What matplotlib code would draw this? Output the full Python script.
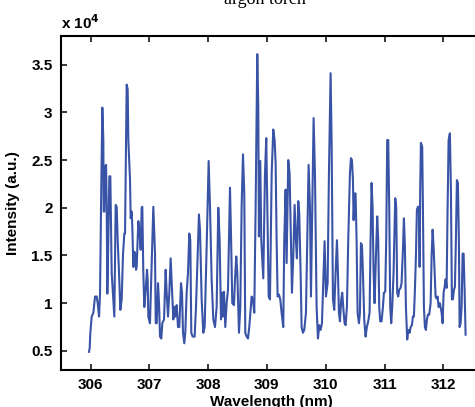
import numpy as np
import matplotlib.pyplot as plt
from matplotlib.ticker import FuncFormatter

# wavelength (nm)
wavelength = [
    305.974, 305.986, 305.997, 306.020, 306.048, 306.077, 306.105, 306.122, 306.145, 306.162,
    306.179, 306.201, 306.218, 306.224, 306.235, 306.247, 306.264, 306.275, 306.286, 306.303,
    306.320, 306.337, 306.360, 306.405, 306.428, 306.445, 306.462, 306.485, 306.507, 306.530,
    306.553, 306.575, 306.587, 306.615, 306.632, 306.643, 306.672, 306.683, 306.700, 306.711,
    306.728, 306.745, 306.757, 306.774, 306.785, 306.813, 306.830, 306.853, 306.870, 306.881,
    306.898, 306.915, 306.938, 306.961, 306.972, 306.983, 307.011,
    307.068, 307.097, 307.109, 307.126, 307.148, 307.165, 307.182, 307.204, 307.221, 307.250,
    307.278, 307.295, 307.318, 307.340, 307.363, 307.386, 307.408, 307.425, 307.442, 307.465,
    307.488, 307.510, 307.539, 307.556, 307.573, 307.595, 307.612, 307.635, 307.658, 307.680,
    307.697, 307.714, 307.737, 307.771, 307.794, 307.822, 307.844, 307.862, 307.890, 307.918,
    307.941, 307.975, 308.009, 308.032, 308.060, 308.088, 308.117, 308.145, 308.173,
    308.196, 308.219, 308.236, 308.253, 308.270, 308.292, 308.315, 308.338, 308.372, 308.389,
    308.411, 308.440, 308.457, 308.479, 308.496, 308.525, 308.547, 308.570, 308.593, 308.615,
    308.632, 308.655, 308.678, 308.700, 308.740, 308.762, 308.785, 308.808, 308.836, 308.853,
    308.864, 308.887, 308.904, 308.938, 308.967, 308.989, 309.006, 309.030, 309.052, 309.081,
    309.108, 309.131, 309.148, 309.165, 309.182, 309.205, 309.227, 309.250, 309.278,
    309.295, 309.318, 309.335, 309.363, 309.386, 309.408, 309.426, 309.448, 309.471, 309.493,
    309.510, 309.533, 309.550, 309.573, 309.590, 309.613, 309.635, 309.664, 309.686, 309.709,
    309.732, 309.749, 309.771, 309.794, 309.817, 309.845, 309.868, 309.890, 309.913, 309.936,
    309.958, 309.981, 310.004, 310.032, 310.055, 310.083, 310.100, 310.123, 310.145, 310.168,
    310.191, 310.208, 310.225, 310.242, 310.264, 310.281, 310.298, 310.321, 310.338, 310.361,
    310.383, 310.412,
    310.429, 310.446, 310.463, 310.474, 310.491, 310.508, 310.525, 310.542, 310.565, 310.582,
    310.599, 310.616, 310.633, 310.655, 310.678, 310.700, 310.723, 310.746, 310.763, 310.780,
    310.797, 310.814, 310.831, 310.854, 310.876, 310.893, 310.910, 310.927, 310.950, 310.973,
    310.990, 311.012, 311.029, 311.046, 311.063, 311.080, 311.097, 311.114, 311.131, 311.154,
    311.182, 311.199, 311.216, 311.233, 311.250, 311.273, 311.290, 311.313, 311.330, 311.347,
    311.364, 311.386, 311.403, 311.427, 311.444,
    311.466, 311.483, 311.500, 311.517, 311.534, 311.551, 311.568, 311.585, 311.597, 311.607,
    311.619, 311.641, 311.653, 311.670, 311.687, 311.704, 311.721, 311.738, 311.760, 311.784,
    311.801, 311.818, 311.835, 311.852, 311.869, 311.885, 311.903, 311.920, 311.942, 311.971,
    311.988, 312.005, 312.022, 312.039, 312.056, 312.073, 312.090, 312.112, 312.129, 312.146,
    312.163, 312.180, 312.197, 312.214, 312.231, 312.248, 312.265, 312.277, 312.294, 312.311,
    312.328, 312.345, 312.362, 312.379,
]

# intensity (a.u.)
intensity = [
    4900, 5300, 6900, 8600, 9000, 10700, 10700, 10000, 8600, 11100,
    20100, 30500, 27100, 19600, 19600, 24300, 24500, 20100, 11000, 16600,
    23300, 23300, 13200, 8600, 20300, 20100, 16600, 13200, 9300, 10400,
    15200, 17300, 17300, 32900, 32400, 27100, 22900, 18900, 19600, 18000,
    13800, 15400, 15200, 13500, 13800, 18600, 17700, 15600, 20000, 20100,
    13200, 9600, 11400, 13500, 12400, 8600, 7900,
    20100, 15200, 7900, 7900, 12100, 10000, 6500, 6300, 7900, 8300,
    13500, 11100, 8600, 11100, 14700, 11400, 8300, 9600, 8600, 9800,
    7500, 7500, 12100, 11100, 6900, 5800, 6900, 11100, 13200, 17300,
    16600, 6900, 6500, 6500, 9600, 15200, 19300, 17700, 10400, 6900,
    7500, 15900, 24900, 20100, 12500, 8300, 7500, 9600, 20000,
    16600, 8300, 11100, 8600, 11200, 7500, 10000, 11400, 22100, 17300,
    10000, 9800, 12500, 14900, 13200, 6900, 9600, 20100, 25600, 21500,
    6900, 6500, 6300, 7500, 10700, 10400, 9000, 20100, 36100, 30600,
    17000, 24900, 16600, 12600, 23600, 27300, 20100, 10700, 10400, 23600,
    28200, 27100, 24700, 16600, 10700, 10900, 10400, 9000, 7500,
    16600, 21900, 14200, 25000, 23600, 16600, 11100, 14900, 20300, 16600,
    14700, 20700, 19400, 13200, 7500, 6900, 7200, 9000, 16600, 24500,
    20100, 10700, 20100, 29400, 23600, 9600, 6300, 7700, 7200, 7900,
    12100, 16500, 10700, 12100, 23600, 34100, 27100, 10400, 9300, 13200,
    16600, 13200, 9000, 8100, 10400, 11100, 9600, 7900, 7700, 9600,
    16600, 23600,
    25200, 25000, 22900, 18700, 21500, 21500, 16600, 9000, 7900, 9000,
    16300, 16100, 13200, 8300, 6500, 7500, 8100, 9000, 16600, 22600,
    20100, 13200, 10000, 14900, 19100, 16600, 9600, 8100, 8100, 9600,
    11100, 11200, 16600, 27100, 27100, 20100, 9600, 7900, 9600, 13200,
    21000, 20100, 11100, 10700, 11400, 11600, 12100, 15600, 18900, 15900,
    9600, 6200, 7200, 6900, 7500,
    7700, 8600, 8600, 11400, 14900, 19800, 20100, 20100, 13800, 21900,
    26800, 26400, 20100, 9600, 7500, 7200, 8300, 8800, 8800, 10000,
    14900, 17700, 15900, 13200, 10700, 10500, 10700, 9600, 10000, 9000,
    7900, 11100, 11700, 12500, 11600, 20100, 27100, 27800, 21900, 10400,
    10400, 11400, 11700, 16600, 22900, 22600, 16600, 7500, 7900, 9600,
    15200, 15200, 11400, 6700,
]

x_ticks = [306, 307, 308, 309, 310, 311, 312]
y_ticks = [5000, 10000, 15000, 20000, 25000, 30000, 35000]

plt.rcParams['font.family'] = ['Liberation Sans', 'DejaVu Sans']

fig = plt.figure(figsize=(4.75, 4.07), dpi=100)
# axes run past the right edge of the figure, like the original crop
ax = fig.add_axes([61 / 475, 37 / 407, 429 / 475, 334 / 407])

ax.plot(wavelength, intensity, color='#3953a6', lw=1.5)

ax.set_xlim(305.498, 312.794)
ax.set_ylim(3000, 38000)
ax.set_xticks(x_ticks)
ax.set_yticks(y_ticks)
ax.yaxis.set_major_formatter(FuncFormatter(lambda v, p: '%g' % (v / 1e4)))

ax.tick_params(direction='in', top=True, right=True, length=4, width=1.1,
               labelsize=11, pad=6)
for lab in ax.get_xticklabels() + ax.get_yticklabels():
    lab.set_fontweight('bold')
for s in ax.spines.values():
    s.set_linewidth(1.5)

ax.set_xlabel('Wavelength (nm)', fontsize=11, fontweight='bold')
ax.xaxis.set_label_coords(0.49, -0.075)
ax.set_ylabel('Intensity (a.u.)', fontsize=11, fontweight='bold', labelpad=8)

ax.text(0, 1.012, r'x 10$^{\mathbf{4}}$', transform=ax.transAxes,
        fontsize=11, fontweight='bold', ha='left', va='bottom')

fig.text(264.5 / 475, 1 - 4 / 407, 'argon torch', family='Liberation Serif',
         fontsize=13, ha='center', va='baseline')

fig.savefig('out.png', dpi=100)
